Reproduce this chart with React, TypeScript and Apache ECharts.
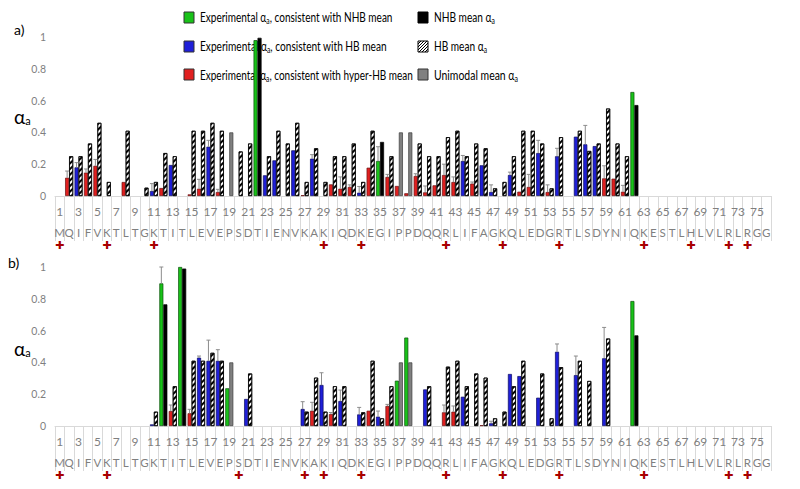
import React, { useEffect, useRef } from "react";
import * as echarts from "echarts";

// ---------- categories (ubiquitin residues) ----------
const sequence = "MQIFVKTLTGKTITLEVEPSDTIENVKAKIQDKEGIPPDQQRLIFAGKQLEDGRTLSDYNIQKESTLHLVLRLRGG".split("");
const residueNumbers = sequence.map((_, i) => i + 1);
const yTicks = [0, 0.2, 0.4, 0.6, 0.8, 1];

// ---------- panel a ----------
const aExpResidues = [2, 3, 4, 5, 8, 11, 12, 13, 15, 16, 17, 18, 22, 23, 24, 26, 27, 28, 30, 31, 32, 33, 34, 35, 36, 37, 38, 39, 40, 41, 42, 43, 44, 45, 46, 47, 49, 50, 51, 52, 53, 54, 56, 57, 58, 59, 60, 61, 62];
const aExpValues = [0.115, 0.18, 0.147, 0.19, 0.088, 0.031, 0.05, 0.195, 0.01, 0.046, 0.31, 0.025, 0.98, 0.13, 0.224, 0.287, 0.005, 0.235, 0.073, 0.046, 0.057, 0.021, 0.178, 0.22, 0.12, 0.063, 0.017, 0.126, 0.023, 0.067, 0.132, 0.088, 0.22, 0.078, 0.193, 0.025, 0.132, 0.027, 0.057, 0.27, 0.025, 0.25, 0.373, 0.325, 0.314, 0.111, 0.109, 0.027, 0.654];
// N = consistent with NHB mean, H = with HB mean, X = with hyper-HB mean
const aExpClasses = ["X", "H", "X", "X", "X", "H", "X", "H", "X", "X", "H", "X", "N", "H", "H", "H", "X", "H", "X", "X", "X", "H", "X", "N", "X", "X", "X", "X", "X", "X", "X", "X", "H", "X", "H", "H", "H", "X", "X", "H", "X", "H", "H", "H", "H", "X", "X", "X", "N"];
const aErrResidues = [2, 3, 4, 5, 11, 16, 17, 18, 28, 31, 32, 33, 35, 36, 39, 40, 42, 43, 44, 45, 47, 49, 51, 52, 53, 54, 57, 59, 61];
const aErrTops = [0.157, 0.21, 0.17, 0.23, 0.078, 0.105, 0.35, 0.042, 0.26, 0.12, 0.07, 0.06, 0.31, 0.136, 0.14, 0.063, 0.2, 0.12, 0.255, 0.088, 0.07, 0.15, 0.136, 0.35, 0.07, 0.3, 0.444, 0.19, 0.067];
const aMeanResidues = [2, 3, 4, 5, 6, 8, 10, 11, 12, 13, 15, 16, 17, 18, 19, 20, 21, 22, 23, 24, 25, 26, 27, 28, 29, 30, 31, 32, 33, 34, 35, 36, 37, 38, 39, 40, 41, 42, 43, 44, 45, 46, 47, 48, 49, 50, 51, 52, 53, 54, 56, 57, 58, 59, 60, 61, 62];
const aMeanValues = [0.25, 0.25, 0.33, 0.46, 0.088, 0.41, 0.052, 0.088, 0.27, 0.25, 0.41, 0.41, 0.46, 0.41, 0.4, 0.28, 0.33, 0.995, 0.25, 0.41, 0.33, 0.46, 0.088, 0.3, 0.088, 0.25, 0.25, 0.33, 0.088, 0.41, 0.34, 0.25, 0.4, 0.4, 0.33, 0.25, 0.25, 0.37, 0.41, 0.25, 0.33, 0.3, 0.048, 0.088, 0.25, 0.41, 0.41, 0.33, 0.048, 0.37, 0.41, 0.283, 0.33, 0.55, 0.33, 0.25, 0.572];
// B = NHB mean, S = HB mean (hatched), G = unimodal mean
const aMeanClasses = ["S", "S", "S", "S", "S", "S", "S", "S", "S", "S", "S", "S", "S", "S", "G", "S", "S", "B", "S", "S", "S", "S", "S", "S", "S", "S", "S", "S", "S", "S", "B", "S", "G", "G", "S", "S", "S", "S", "S", "S", "S", "S", "S", "S", "S", "S", "S", "S", "S", "S", "S", "S", "S", "S", "S", "S", "B"];
const aCrossResidues = [1, 6, 11, 29, 33, 42, 48, 54, 63, 68, 72, 74];

// ---------- panel b ----------
const bExpResidues = [11, 12, 13, 14, 15, 16, 17, 18, 19, 21, 27, 28, 29, 30, 31, 33, 34, 35, 36, 37, 38, 40, 42, 43, 44, 46, 47, 49, 50, 52, 54, 56, 59, 62];
const bExpValues = [0.01, 0.897, 0.094, 1.0, 0.08, 0.43, 0.41, 0.41, 0.237, 0.17, 0.107, 0.096, 0.258, 0.075, 0.157, 0.073, 0.096, 0.059, 0.126, 0.285, 0.556, 0.23, 0.086, 0.09, 0.184, 0.005, 0.017, 0.327, 0.314, 0.178, 0.467, 0.32, 0.426, 0.786];
const bExpClasses = ["H", "N", "X", "N", "X", "H", "H", "H", "N", "H", "H", "X", "H", "X", "H", "H", "X", "H", "X", "N", "N", "H", "X", "X", "H", "X", "H", "H", "H", "H", "H", "H", "H", "N"];
const bErrResidues = [12, 13, 15, 16, 17, 18, 27, 28, 29, 30, 31, 33, 35, 36, 42, 43, 47, 54, 56, 59];
const bErrTops = [1.0, 0.132, 0.105, 0.44, 0.54, 0.48, 0.153, 0.149, 0.335, 0.085, 0.226, 0.117, 0.094, 0.136, 0.132, 0.126, 0.03, 0.516, 0.44, 0.62];
const bMeanResidues = [11, 12, 13, 14, 15, 16, 17, 18, 19, 21, 27, 28, 29, 30, 31, 33, 34, 35, 36, 37, 38, 40, 42, 43, 44, 45, 46, 47, 48, 49, 50, 52, 53, 54, 56, 57, 59, 62];
const bMeanValues = [0.09, 0.765, 0.25, 0.99, 0.41, 0.41, 0.46, 0.41, 0.4, 0.33, 0.09, 0.304, 0.09, 0.25, 0.25, 0.086, 0.41, 0.048, 0.25, 0.4, 0.4, 0.25, 0.373, 0.41, 0.25, 0.33, 0.304, 0.048, 0.09, 0.25, 0.41, 0.33, 0.048, 0.37, 0.41, 0.283, 0.55, 0.57];
const bMeanClasses = ["S", "B", "S", "B", "S", "S", "S", "S", "G", "S", "S", "S", "S", "S", "S", "S", "S", "S", "S", "G", "G", "S", "S", "S", "S", "S", "S", "S", "S", "S", "S", "S", "S", "S", "S", "S", "S", "B"];
const bCrossResidues = [1, 6, 20, 27, 29, 33, 42, 48, 54, 63, 72, 74];

// ---------- styles ----------
const FONT = "Lato, 'Liberation Sans', sans-serif";
const GRAY = "#7f7f7f";
const EXP_STYLE: Record<string, any> = {
  N: { color: "#19c219", borderColor: "#0b4f0b" },
  H: { color: "#1f1fd8", borderColor: "#0b0b5e" },
  X: { color: "#e02020", borderColor: "#6a1010" },
};
const HATCH = {
  symbol: "rect",
  symbolSize: 1,
  color: "#000",
  dashArrayX: [1, 0],
  dashArrayY: [1.4, 1.8],
  rotation: -Math.PI / 4,
};
const MEAN_STYLE: Record<string, any> = {
  B: { color: "#000000", borderColor: "#000000" },
  S: { color: "#ffffff", borderColor: "#000000", decal: HATCH },
  G: { color: "#808080", borderColor: "#3c3c3c" },
};

let measureCtx: CanvasRenderingContext2D | null = null;
function measure(text: string, font: string) {
  if (!measureCtx) measureCtx = document.createElement("canvas").getContext("2d");
  if (!measureCtx) return text.length * 6;
  measureCtx.font = font;
  return measureCtx.measureText(text).width;
}

function classData(residues: number[], values: number[], classes: string[], cls: string) {
  return sequence.map((_, i) => {
    const k = residues.indexOf(i + 1);
    return k >= 0 && classes[k] === cls ? values[k] : "-";
  });
}

function panelSeries(g: number, expR: number[], expV: number[], expC: string[], errR: number[], errT: number[], meanR: number[], meanV: number[], meanC: string[]) {
  const series: any[] = [];
  const xi = g * 3;
  ["N", "H", "X"].forEach((cls) => {
    series.push({
      type: "bar",
      name: "exp" + cls + g,
      xAxisIndex: xi,
      yAxisIndex: g,
      stack: "exp" + g,
      barWidth: 4,
      barGap: "0%",
      data: classData(expR, expV, expC, cls),
      itemStyle: { ...EXP_STYLE[cls], borderWidth: 0.7 },
    });
  });
  ["B", "S", "G"].forEach((cls) => {
    series.push({
      type: "bar",
      name: "mean" + cls + g,
      xAxisIndex: xi,
      yAxisIndex: g,
      stack: "mean" + g,
      barWidth: 4,
      barGap: "0%",
      data: classData(meanR, meanV, meanC, cls),
      itemStyle: { ...MEAN_STYLE[cls], borderWidth: 0.7 },
    });
  });
  series.push({
    type: "custom",
    xAxisIndex: xi,
    yAxisIndex: g,
    z: 5,
    data: errR.map((r, k) => [r - 1, expV[expR.indexOf(r)], errT[k]]),
    renderItem: (_p: any, api: any) => {
      const idx = api.value(0);
      const base = api.coord([idx, api.value(1)]);
      const top = api.coord([idx, api.value(2)]);
      const x = base[0] - 2;
      return {
        type: "group",
        children: [
          { type: "line", shape: { x1: x, y1: base[1], x2: x, y2: top[1] }, style: { stroke: "#8c8c8c", lineWidth: 1 } },
          { type: "line", shape: { x1: x - 2, y1: top[1], x2: x + 2, y2: top[1] }, style: { stroke: "#8c8c8c", lineWidth: 1 } },
        ],
      };
    },
  });
  return series;
}

function xAxes(g: number, crosses: number[]) {
  const common = { type: "category", gridIndex: g, position: "bottom", data: sequence, splitLine: { show: false } };
  return [
    {
      ...common,
      axisLine: { lineStyle: { color: "#d9d9d9", width: 1 } },
      axisTick: { show: true, interval: 0, length: 45, lineStyle: { color: "#d9d9d9" } },
      axisLabel: {
        interval: 1,
        margin: 9,
        color: GRAY,
        fontSize: 12,
        fontFamily: FONT,
        formatter: (_v: string, index: number) => String(residueNumbers[index]),
      },
    },
    {
      ...common,
      axisLine: { show: false },
      axisTick: { show: false },
      axisLabel: { interval: 0, margin: 31, lineHeight: 11, color: GRAY, fontSize: 11.5, fontFamily: FONT },
    },
    {
      ...common,
      axisLine: { show: false },
      axisTick: { show: false },
      axisLabel: {
        interval: 0,
        margin: 45,
        lineHeight: 9,
        color: "#a80000",
        fontSize: 11,
        fontFamily: "DejaVu Sans",
        formatter: (_v: string, index: number) => (crosses.includes(residueNumbers[index]) ? "✚" : ""),
      },
    },
  ];
}

function yAxis(g: number) {
  return {
    type: "value",
    gridIndex: g,
    min: yTicks[0],
    max: yTicks[yTicks.length - 1],
    interval: yTicks[1] - yTicks[0],
    axisLine: { show: false },
    axisTick: { show: false },
    splitLine: { show: false },
    axisLabel: { color: GRAY, fontSize: 10.5, fontFamily: FONT, margin: 9, formatter: (v: number) => String(Math.round(v * 10) / 10) },
  };
}

function hatchLines(x0: number, y0: number, w: number, h: number, step: number) {
  const out: any[] = [];
  for (let c = step; c < w + h; c += step) {
    const xa = Math.max(0, c - h);
    const xb = Math.min(w, c);
    out.push({
      type: "line",
      shape: { x1: x0 + xa, y1: y0 + (c - xa), x2: x0 + xb, y2: y0 + (c - xb) },
      style: { stroke: "#000", lineWidth: 1 },
    });
  }
  return out;
}

const LEG_MAIN = 13.5;
const LEG_SUB = 9;
function legendText(x: number, y: number, before: string, after: string, targetWidth: number) {
  const natural = measure(before + after, `${LEG_MAIN}px Lato`) + measure("a", `${LEG_SUB}px Lato`);
  const scaleX = natural > 0 ? targetWidth / natural : 0.8;
  return {
    type: "text",
    x,
    y,
    scaleX,
    style: {
      text: `{t|${before}}{s|a}{t|${after}}`,
      rich: {
        t: { fontSize: LEG_MAIN, fontFamily: FONT, fill: "#000", lineHeight: 18 },
        s: { fontSize: LEG_SUB, fontFamily: FONT, fill: "#000", lineHeight: 18, padding: [7, 0, 0, 0] },
      },
      verticalAlign: "middle",
    },
  };
}

function alphaLabel(x: number, y: number) {
  return {
    type: "text",
    x,
    y,
    style: {
      text: "{t|α}{s|a}",
      rich: {
        t: { fontSize: 19, fontFamily: FONT, fill: "#000", lineHeight: 22 },
        s: { fontSize: 11, fontFamily: FONT, fill: "#000", lineHeight: 22, padding: [9, 0, 0, 0] },
      },
      verticalAlign: "middle",
    },
  };
}

export default function App() {
  const ref = useRef<HTMLDivElement>(null);
  useEffect(() => {
    if (!ref.current) return;
    const chart = echarts.init(ref.current, undefined, { renderer: "svg" });
    const box = (x: number, y: number, fill: string, stroke: string) => ({
      type: "rect",
      shape: { x, y, width: 10, height: 11 },
      style: { fill, stroke, lineWidth: 1 },
    });
    chart.setOption({
      animation: false,
      backgroundColor: "#ffffff",
      textStyle: { fontFamily: FONT },
      grid: [
        { left: 55, width: 716, top: 37, height: 159 },
        { left: 55, width: 716, top: 267, height: 159 },
      ],
      xAxis: [...xAxes(0, aCrossResidues), ...xAxes(1, bCrossResidues)],
      yAxis: [yAxis(0), yAxis(1)],
      series: [
        ...panelSeries(0, aExpResidues, aExpValues, aExpClasses, aErrResidues, aErrTops, aMeanResidues, aMeanValues, aMeanClasses),
        ...panelSeries(1, bExpResidues, bExpValues, bExpClasses, bErrResidues, bErrTops, bMeanResidues, bMeanValues, bMeanClasses),
      ],
      graphic: [
        { type: "text", x: 14, y: 22, style: { text: "a)", fontSize: 14, fontFamily: FONT, fill: "#000" } },
        { type: "text", x: 8, y: 255, style: { text: "b)", fontSize: 14, fontFamily: FONT, fill: "#000" } },
        alphaLabel(14, 116),
        alphaLabel(14, 348),
        box(184, 12, "#19c219", "#333"),
        box(184, 41, "#1f1fd8", "#333"),
        box(184, 69, "#e02020", "#333"),
        box(418, 12, "#000000", "#000"),
        box(418, 41, "#ffffff", "#000"),
        ...hatchLines(418, 41, 10, 11, 3),
        box(418, 69, "#808080", "#333"),
        legendText(200, 17, "Experimental α", ", consistent with NHB mean", 193),
        legendText(200, 46, "Experimental α", ", consistent with HB mean", 187),
        legendText(200, 75, "Experimental α", ", consistent with hyper-HB mean", 213),
        legendText(434, 17, "NHB mean α", "", 61),
        legendText(434, 46, "HB mean α", "", 53),
        legendText(434, 75, "Unimodal mean α", "", 84),
      ],
    });
    return () => chart.dispose();
  }, []);
  return <div ref={ref} style={{ position: "fixed", left: 0, top: 0, width: 800, height: 489, background: "#fff" }} />;
}
